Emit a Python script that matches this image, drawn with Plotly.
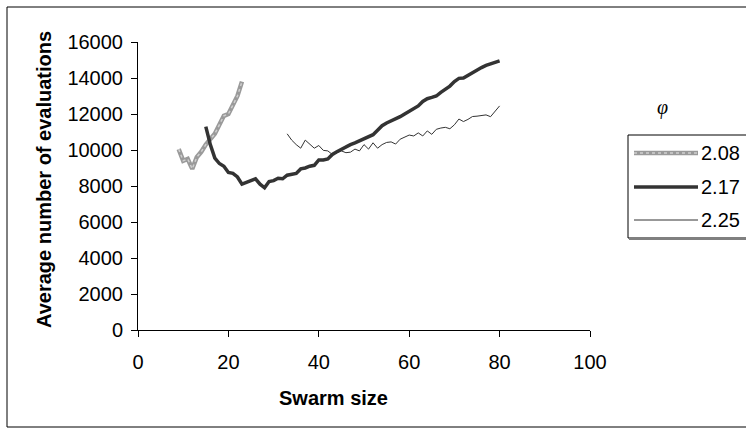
import plotly.graph_objects as go

# ---- data ----
x_208 = list(range(9, 24))
y_208 = [10050, 9400, 9500, 8950, 9600, 9900, 10300, 10600, 10900, 11400,
         11900, 12000, 12500, 13000, 13800]

x_217 = list(range(15, 81))
y_217 = [11300, 10300, 9550, 9250, 9100, 8750, 8700, 8500, 8100, 8200,
         8300, 8400, 8100, 7900, 8250, 8300, 8430, 8400, 8600, 8650,
         8700, 8950, 9000, 9100, 9150, 9450, 9450, 9500, 9750, 9900,
         10050, 10200, 10300, 10400, 10520, 10600, 10750, 10850, 11100, 11350,
         11500, 11600, 11750, 11850, 12000, 12150, 12250, 12450, 12700, 12850,
         12920, 13000, 13200, 13370, 13550, 13800, 13980, 14000, 14150, 14300,
         14480, 14580, 14700, 14800, 14880, 14950]

x_225 = list(range(33, 81))
y_225 = [10900, 10550, 10300, 10100, 10550, 10300, 10100, 10250, 9980, 9950,
         9750, 9850, 9950, 9850, 9880, 10050, 9950, 10300, 10050, 10400,
         10100, 10300, 10420, 10450, 10330, 10600, 10700, 10830, 10780, 10950,
         10780, 11060, 10870, 11150, 11220, 11260, 11180, 11400, 11720, 11580,
         11700, 11860, 11880, 11900, 11950, 11850, 12180, 12450]

series_names = ["2.08", "2.17", "2.25"]
x_ticks = [0, 20, 40, 60, 80, 100]
y_ticks = [0, 2000, 4000, 6000, 8000, 10000, 12000, 14000, 16000]
x_title = "Swarm size"
y_title = "Average number of evaluations"
legend_title = "φ"

# ---- geometry (pixels) ----
W, H = 746, 433
L, R, T, B = 138, 590, 42, 330   # plot area edges

def px(p):
    return (p - L) / (R - L)

def py(q):
    return (B - q) / (B - T)

FONT = "Arial, Liberation Sans, sans-serif"
fig = go.Figure()

fig.add_trace(go.Scatter(x=x_208, y=y_208, mode="lines", name=series_names[0],
                         line=dict(color="#9a9a9a", width=4.5), showlegend=False))
fig.add_trace(go.Scatter(x=x_208, y=y_208, mode="lines", hoverinfo="skip",
                         line=dict(color="#cfcfcf", width=1.5, dash="dot"), showlegend=False))
fig.add_trace(go.Scatter(x=x_217, y=y_217, mode="lines", name=series_names[1],
                         line=dict(color="#333333", width=3.5), showlegend=False))
fig.add_trace(go.Scatter(x=x_225, y=y_225, mode="lines", name=series_names[2],
                         line=dict(color="#333333", width=1), showlegend=False))

shapes = []
# outer chart frame
shapes.append(dict(type="rect", xref="paper", yref="paper",
                   x0=px(7), x1=px(760), y0=py(427), y1=py(7),
                   line=dict(color="black", width=1), layer="below"))
# legend box
shapes.append(dict(type="rect", xref="paper", yref="paper",
                   x0=px(628), x1=px(760), y0=py(238), y1=py(135),
                   line=dict(color="black", width=1)))
shapes.append(dict(type="line", xref="paper", yref="paper",
                   x0=px(629), x1=px(760), y0=py(239), y1=py(239),
                   line=dict(color="#808080", width=2)))
leg_rows = [153, 187, 220]
leg_styles = [dict(color="#9a9a9a", width=4.5), dict(color="#333333", width=3.5),
              dict(color="#333333", width=1)]
annotations = []
for name, yy, st in zip(series_names, leg_rows, leg_styles):
    shapes.append(dict(type="line", xref="paper", yref="paper",
                       x0=px(634), x1=px(698), y0=py(yy), y1=py(yy), line=st))
    annotations.append(dict(x=px(699), y=py(yy), xref="paper", yref="paper",
                            text=name, showarrow=False, xanchor="left", yanchor="middle",
                            font=dict(family=FONT, size=20, color="black")))
shapes.append(dict(type="line", xref="paper", yref="paper",
                   x0=px(634), x1=px(698), y0=py(153), y1=py(153),
                   line=dict(color="#cfcfcf", width=1.5, dash="dot")))

annotations.append(dict(x=px(662), y=py(107), xref="paper", yref="paper",
                        text="<i>" + legend_title + "</i>", showarrow=False,
                        xanchor="center", yanchor="middle",
                        font=dict(family="Times New Roman, Liberation Serif, serif", size=20, color="black")))
annotations.append(dict(x=px(44), y=py(180), xref="paper", yref="paper",
                        text="<b>" + y_title + "</b>", showarrow=False, textangle=-90,
                        xanchor="center", yanchor="middle",
                        font=dict(family=FONT, size=20, color="black")))
annotations.append(dict(x=px(333), y=py(398), xref="paper", yref="paper",
                        text="<b>" + x_title + "</b>", showarrow=False,
                        xanchor="center", yanchor="middle",
                        font=dict(family=FONT, size=20, color="black")))

fig.update_layout(
    width=W, height=H,
    margin=dict(l=L, r=W - R, t=T, b=H - B, pad=0),
    paper_bgcolor="white", plot_bgcolor="white",
    showlegend=False,
    shapes=shapes, annotations=annotations,
    xaxis=dict(range=[0, 100], tickvals=x_ticks, ticks="outside", ticklen=6,
               tickcolor="black", showline=True, linecolor="black", linewidth=1,
               showgrid=False, zeroline=False, ticklabelstandoff=8,
               tickfont=dict(family=FONT, size=20, color="black")),
    yaxis=dict(range=[0, 16000], tickvals=y_ticks, ticks="outside", ticklen=6,
               tickformat="d", ticktext=[str(v) for v in y_ticks],
               tickcolor="black", showline=True, linecolor="black", linewidth=1,
               showgrid=False, zeroline=False, ticklabelstandoff=4,
               tickfont=dict(family=FONT, size=20, color="black")),
)

fig.write_html("out.html")
